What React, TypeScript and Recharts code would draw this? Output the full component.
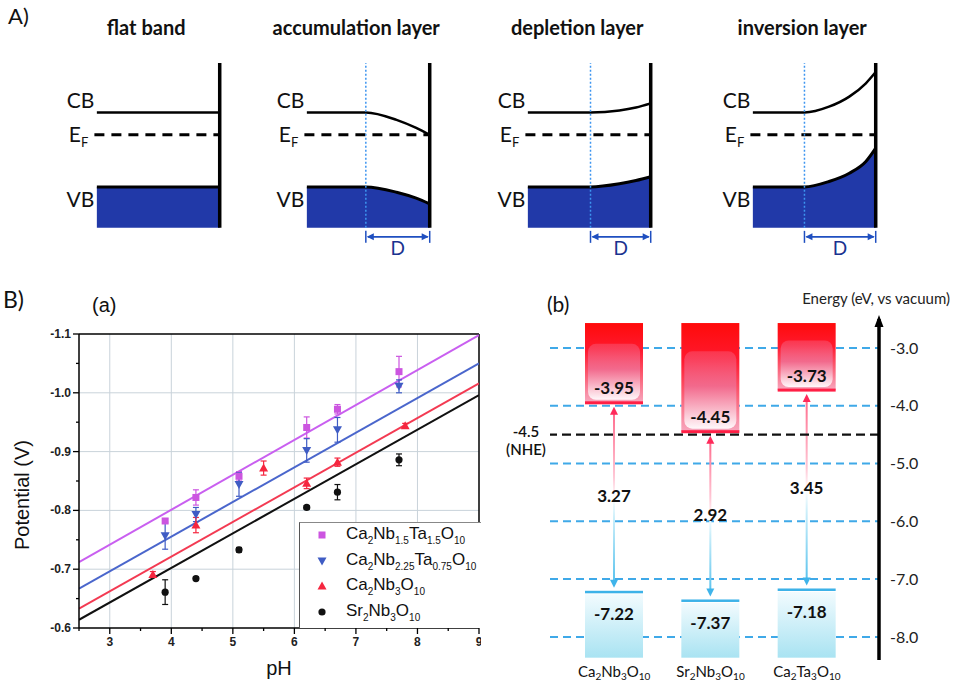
import React from "react";
import {
  ComposedChart,
  Line,
  Area,
  Scatter,
  Bar,
  XAxis,
  YAxis,
  CartesianGrid,
  ReferenceLine,
  ReferenceDot,
  ErrorBar,
  Legend,
  LabelList,
  Label,
} from "recharts";

const ARIAL = "'Liberation Sans', Arial, sans-serif";
const LATO = "Lato, 'Open Sans', sans-serif";

// ---- A) band bending schematics (x: 0 = bulk … 1 = surface, y: energy in arbitrary units)
const BAND_TITLES = ["flat band", "accumulation layer", "depletion layer", "inversion layer"];
const FLAT_X = [0, 1];
const FLAT_CB = [7, 7];
const FLAT_VB = [2.48, 2.48];
const ACC_X = [0, 0.48, 0.73, 0.89, 1];
const ACC_CB = [7, 7, 6.55, 6.06, 5.64];
const ACC_VB = [2.48, 2.48, 2.16, 1.8, 1.45];
const DEP_X = [0, 0.51, 0.745, 0.88, 1];
const DEP_CB = [7, 7, 7.12, 7.3, 7.55];
const DEP_VB = [2.48, 2.48, 2.67, 2.87, 3.1];
const INV_X = [0, 0.42, 0.62, 0.785, 0.92, 1];
const INV_CB = [7, 7, 7.35, 7.96, 8.77, 9.45];
const INV_VB = [2.48, 2.48, 2.81, 3.31, 4.02, 4.83];
const DEPTH_START = [null, 0.48, 0.51, 0.42];
const FERMI_LEVEL = 5.64;

// ---- B)(a) flat band potential vs pH
const SERIES_NAMES = ["Ca2Nb1.5Ta1.5O10", "Ca2Nb2.25Ta0.75O10", "Ca2Nb3O10", "Sr2Nb3O10"];
const PH_MAG = [3.9, 4.4, 5.1, 6.2, 6.7, 7.7];
const POT_MAG = [-0.782, -0.822, -0.858, -0.941, -0.972, -1.036];
const ERR_MAG = [0.004, 0.013, 0.008, 0.018, 0.008, 0.026];
const PH_BLUE = [3.9, 4.4, 5.1, 6.2, 6.7, 7.7];
const POT_BLUE = [-0.757, -0.793, -0.844, -0.902, -0.937, -1.011];
const ERR_BLUE = [0.023, 0.012, 0.02, 0.02, 0.021, 0.011];
const PH_RED = [3.7, 4.4, 5.5, 6.2, 6.7, 7.8];
const POT_RED = [-0.691, -0.775, -0.872, -0.846, -0.882, -0.944];
const ERR_RED = [0.005, 0.013, 0.012, 0.009, 0.007, 0.004];
const PH_BLACK = [3.9, 4.4, 5.1, 6.2, 6.7, 7.7];
const POT_BLACK = [-0.661, -0.684, -0.733, -0.805, -0.831, -0.886];
const ERR_BLACK = [0.021, 0.003, 0.004, 0.003, 0.013, 0.01];
const FIT_PH = [2.5, 9];
const FIT_MAG = [-0.712, -1.098];
const FIT_BLUE = [-0.667, -1.05];
const FIT_RED = [-0.633, -1.016];
const FIT_BLACK = [-0.614, -0.996];
const PH_TICKS = [2.5, 3, 3.5, 4, 4.5, 5, 5.5, 6, 6.5, 7, 7.5, 8, 8.5, 9];
const POT_TICKS = [-1.1, -1.05, -1.0, -0.95, -0.9, -0.85, -0.8, -0.75, -0.7, -0.65, -0.6];
const PH_GRID = [3, 4, 5, 6, 7, 8];
const POT_GRID = [-1.0, -0.9, -0.8, -0.7];

// ---- B)(b) band edge positions
const MATERIALS = ["Ca2Nb3O10", "Sr2Nb3O10", "Ca2Ta3O10"];
const CB_EDGE = [-3.95, -4.45, -3.73];
const VB_EDGE = [-7.22, -7.37, -7.18];
const GAP = [3.27, 2.92, 3.45];
const BAND_TOP = -2.57;
const BAND_BOTTOM = -8.36;
const ENERGY_TICKS = [-8, -7, -6, -5, -4, -3];
const NHE = -4.5;

const SERIES_COLORS = ["#cc55e0", "#3f5cc4", "#f5263f", "#111111"];
const LINE_COLORS = ["#c95ff0", "#4a66cc", "#f33a52", "#111111"];

function formulaParts(f: string) {
  const parts: { t: string; sub: boolean }[] = [];
  for (const m of f.matchAll(/([A-Z][a-z]?)([\d.]*)/g)) {
    parts.push({ t: m[1], sub: false });
    if (m[2]) parts.push({ t: m[2], sub: true });
  }
  return parts;
}

function svgFormula(f: string, size: number, subSize: number, drop: number) {
  let cur = 0;
  return formulaParts(f).map((p, i) => {
    const target = p.sub ? drop : 0;
    const dy = target - cur;
    cur = target;
    return (
      <tspan key={i} fontSize={p.sub ? subSize : size} dy={dy}>
        {p.t}
      </tspan>
    );
  });
}

function HtmlFormula({ f }: { f: string }) {
  return (
    <>
      {formulaParts(f).map((p, i) =>
        p.sub ? (
          <span key={i} style={{ fontSize: 10, position: "relative", top: 5 }}>
            {p.t}
          </span>
        ) : (
          <span key={i}>{p.t}</span>
        )
      )}
    </>
  );
}

function Marker({ i, cx, cy }: { i: number; cx: number; cy: number }) {
  const c = SERIES_COLORS[i];
  if (i === 0) return <rect x={cx - 3.5} y={cy - 3.5} width={7} height={7} fill={c} />;
  if (i === 1)
    return <path d={`M${cx - 4.5},${cy - 3.5} L${cx + 4.5},${cy - 3.5} L${cx},${cy + 4.5} Z`} fill={c} />;
  if (i === 2)
    return <path d={`M${cx - 4.5},${cy + 3.5} L${cx + 4.5},${cy + 3.5} L${cx},${cy - 4.5} Z`} fill={c} />;
  return <circle cx={cx} cy={cy} r={3.6} fill={c} />;
}

// ---------- A) ----------
function DArrow(p: any) {
  const { x1, y1, x2, stroke } = p;
  return (
    <g stroke={stroke} fill={stroke}>
      <line x1={x1 + 2} y1={y1} x2={x2 - 2} y2={y1} strokeWidth={1.8} />
      <line x1={x1} y1={y1 - 6} x2={x1} y2={y1 + 6} strokeWidth={1.5} />
      <line x1={x2} y1={y1 - 6} x2={x2} y2={y1 + 6} strokeWidth={1.5} />
      <path d={`M${x1 + 1},${y1} l7,-3.5 l0,7 z`} stroke="none" />
      <path d={`M${x2 - 1},${y1} l-7,-3.5 l0,7 z`} stroke="none" />
    </g>
  );
}

const sideLabel = (text: string, sub?: string) => (p: any) => (
  <text x={p.viewBox.x} y={p.viewBox.y} textAnchor="end" fontFamily={LATO} fontSize={21} fill="#111">
    {text}
    {sub ? (
      <tspan fontSize={13} dy={5}>
        {sub}
      </tspan>
    ) : null}
  </text>
);

const dLabel = (p: any) => (
  <text x={p.viewBox.x} y={p.viewBox.y} textAnchor="middle" fontFamily={LATO} fontSize={19} fill="#1a3290">
    D
  </text>
);

function BandPanel({ left, xs, cb, vb, depth }: any) {
  const data = xs.map((x: number, i: number) => ({ x, cb: cb[i], vb: vb[i] }));
  return (
    <div style={{ position: "absolute", left, top: 63 }}>
      <ComposedChart width={172} height={206} data={data} margin={{ top: 0, right: 0, bottom: 0, left: 0 }}>
        <XAxis dataKey="x" type="number" domain={[-0.3, 1.1]} hide />
        <YAxis type="number" domain={[-2.5, 10]} hide />
        <Area
          type="monotone"
          dataKey="vb"
          baseValue={0}
          stroke="#000"
          strokeWidth={3}
          fill="#2139a8"
          fillOpacity={1}
          isAnimationActive={false}
        />
        <Line type="monotone" dataKey="cb" stroke="#000" strokeWidth={2.5} dot={false} isAnimationActive={false} />
        <ReferenceLine
          segment={[{ x: -0.02, y: FERMI_LEVEL }, { x: 1, y: FERMI_LEVEL }]}
          stroke="#000"
          strokeWidth={3}
          strokeDasharray="10 7"
        />
        {depth != null && (
          <ReferenceLine
            segment={[{ x: depth, y: 0 }, { x: depth, y: 10 }]}
            stroke="#3d95f0"
            strokeWidth={1.5}
            strokeDasharray="2 2"
          />
        )}
        <ReferenceLine segment={[{ x: 1, y: 0 }, { x: 1, y: 10 }]} stroke="#000" strokeWidth={3.5} />
        {depth != null && (
          <ReferenceLine segment={[{ x: depth, y: -0.55 }, { x: 1, y: -0.55 }]} stroke="#1f4fc0" shape={DArrow} />
        )}
        {depth != null && (
          <ReferenceDot x={(depth + 1) / 2} y={-1.64} r={0} fill="none" stroke="none" label={dLabel} />
        )}
        <ReferenceDot x={-0.02} y={7.27} r={0} fill="none" stroke="none" label={sideLabel("CB")} />
        <ReferenceDot x={-0.07} y={5.21} r={0} fill="none" stroke="none" label={sideLabel("E", "F")} />
        <ReferenceDot x={-0.02} y={1.27} r={0} fill="none" stroke="none" label={sideLabel("VB")} />
      </ComposedChart>
    </div>
  );
}

// ---------- B)(a) ----------
function PhTick(props: any) {
  const { x, y, payload } = props;
  const v = payload.value;
  const major = Number.isInteger(v);
  const ay = y - 8;
  return (
    <g>
      <line x1={x} y1={ay} x2={x} y2={ay + (major ? 6 : 3)} stroke="#000" strokeWidth={1.3} />
      {major && (
        <text x={x} y={ay + 18} textAnchor="middle" fontSize={12} fontWeight={600} fontFamily={ARIAL} fill="#222">
          {v}
        </text>
      )}
    </g>
  );
}

function PotTick(props: any) {
  const { x, y, payload } = props;
  const v = payload.value;
  const major = Math.abs(v * 10 - Math.round(v * 10)) < 1e-6;
  const ax = x + 8;
  return (
    <g>
      <line x1={ax} y1={y} x2={ax - (major ? 6 : 3)} y2={y} stroke="#000" strokeWidth={1.3} />
      {major && (
        <text x={ax - 8} y={y + 4} textAnchor="end" fontSize={12} fontWeight={600} fontFamily={ARIAL} fill="#222">
          {v.toFixed(1)}
        </text>
      )}
    </g>
  );
}

const phLabel = (p: any) => {
  const vb = p.viewBox;
  return (
    <text x={vb.x + vb.width / 2} y={vb.y + 47} textAnchor="middle" fontSize={20} fontFamily={ARIAL} fill="#111">
      pH
    </text>
  );
};

const potLabel = (p: any) => {
  const vb = p.viewBox;
  const cx = vb.x - 7;
  const cy = vb.y + vb.height / 2 + 14;
  return (
    <text
      x={cx}
      y={cy}
      transform={`rotate(-90 ${cx} ${cy})`}
      textAnchor="middle"
      dominantBaseline="central"
      fontSize={20}
      fontFamily={ARIAL}
      fill="#111"
    >
      Potential (V)
    </text>
  );
};

function LegendBox() {
  return (
    <div
      style={{
        width: 200,
        height: 106,
        boxSizing: "border-box",
        background: "#fff",
        borderLeft: "1.5px solid #555",
        borderTop: "1.5px solid #888",
        fontFamily: ARIAL,
        position: "relative",
      }}
    >
      {SERIES_NAMES.map((n, i) => (
        <div
          key={n}
          style={{ position: "absolute", left: 0, top: 2 + i * 25.7, height: 20, display: "flex", alignItems: "center" }}
        >
          <svg width={46} height={20} style={{ flex: "none" }}>
            <Marker i={i} cx={22} cy={10} />
          </svg>
          <span style={{ fontSize: 17, color: "#111", whiteSpace: "nowrap", lineHeight: "20px" }}>
            <HtmlFormula f={n} />
          </span>
        </div>
      ))}
    </div>
  );
}

function PotentialChart() {
  const series = [
    { xs: PH_MAG, ys: POT_MAG, errs: ERR_MAG, fit: FIT_MAG },
    { xs: PH_BLUE, ys: POT_BLUE, errs: ERR_BLUE, fit: FIT_BLUE },
    { xs: PH_RED, ys: POT_RED, errs: ERR_RED, fit: FIT_RED },
    { xs: PH_BLACK, ys: POT_BLACK, errs: ERR_BLACK, fit: FIT_BLACK },
  ];
  return (
    <div style={{ position: "absolute", left: 0, top: 300, width: 481, height: 384, overflow: "hidden" }}>
      <ComposedChart width={540} height={384} margin={{ top: 34, right: 61, bottom: 26, left: 29 }}>
        <XAxis
          dataKey="x"
          type="number"
          domain={[2.5, 9]}
          ticks={PH_TICKS}
          interval={0}
          allowDataOverflow
          height={30}
          tickSize={6}
          tickMargin={2}
          tickLine={false}
          axisLine={{ stroke: "#000", strokeWidth: 1.5 }}
          tick={<PhTick />}
          label={<Label content={phLabel} />}
        />
        <YAxis
          type="number"
          domain={[-1.1, -0.6]}
          reversed
          ticks={POT_TICKS}
          interval={0}
          allowDataOverflow
          width={50}
          tickSize={6}
          tickMargin={2}
          tickLine={false}
          axisLine={{ stroke: "#000", strokeWidth: 1.5 }}
          tick={<PotTick />}
          label={<Label content={potLabel} />}
        />
        {PH_GRID.map((v) => (
          <ReferenceLine key={"gx" + v} x={v} stroke="#c9d3da" strokeWidth={1} />
        ))}
        {POT_GRID.map((v) => (
          <ReferenceLine key={"gy" + v} y={v} stroke="#c9d3da" strokeWidth={1} />
        ))}
        <ReferenceLine y={-1.1} stroke="#000" strokeWidth={1.5} />
        <ReferenceLine x={9} stroke="#000" strokeWidth={1.5} />
        {series.map((s, i) => (
          <Line
            key={"fit" + i}
            data={FIT_PH.map((x, j) => ({ x, y: s.fit[j] }))}
            dataKey="y"
            stroke={LINE_COLORS[i]}
            strokeWidth={2}
            dot={false}
            legendType="none"
            isAnimationActive={false}
          />
        ))}
        {series.map((s, i) => (
          <Scatter
            key={"pts" + i}
            name={SERIES_NAMES[i]}
            data={s.xs.map((x, j) => ({ x, y: s.ys[j], err: s.errs[j] }))}
            dataKey="y"
            fill={SERIES_COLORS[i]}
            shape={(p: any) => <Marker i={i} cx={p.cx} cy={p.cy} />}
            isAnimationActive={false}
          >
            <ErrorBar dataKey="err" direction="y" width={3} stroke={SERIES_COLORS[i]} strokeWidth={1.2} />
          </Scatter>
        ))}
        <Legend
          layout="vertical"
          align="center"
          verticalAlign="middle"
          wrapperStyle={{ left: 299, top: 222, width: 200, height: 106 }}
          content={() => <LegendBox />}
        />
      </ComposedChart>
    </div>
  );
}

// ---------- B)(b) ----------
function CbShape(p: any) {
  const { x, y, width, height } = p;
  const innerTop = y + height * 0.26;
  return (
    <g>
      <rect x={x} y={y} width={width} height={height} fill="url(#cbOuter)" />
      <rect x={x + 3} y={innerTop} width={width - 6} height={y + height - innerTop - 3} rx={8} fill="url(#cbInner)" />
      <rect x={x} y={y + height - 1.5} width={width} height={3} fill="#ff1f45" />
    </g>
  );
}

function VbShape(p: any) {
  const { x, y, width, height } = p;
  return (
    <g>
      <rect x={x} y={y + 2.5} width={width} height={height - 2.5} fill="url(#vbFill)" />
      <rect x={x} y={y - 1} width={width} height={2.5} fill="#3db2e8" />
    </g>
  );
}

function GapArrow(p: any) {
  const { x, y, width, height } = p;
  const cx = x + width / 2;
  const top = y + 4;
  const bot = y + height - 4;
  return (
    <g>
      <rect x={cx - 1} y={top + 7} width={2} height={bot - top - 14} fill="url(#gapGrad)" />
      <path d={`M${cx},${top} l-4,8 l8,0 z`} fill="#ff2a5a" />
      <path d={`M${cx},${bot} l-4,-8 l8,0 z`} fill="#3fb4ea" />
    </g>
  );
}

const boxOf = (p: any) => p.viewBox ?? p;

const cbLabel = (p: any) => {
  const b = boxOf(p);
  return (
    <text
      x={b.x + b.width / 2}
      y={b.y + b.height - 15}
      textAnchor="middle"
      dominantBaseline="central"
      fontFamily={LATO}
      fontWeight={700}
      fontSize={17}
      fill="#111"
    >
      {Number(p.value).toFixed(2)}
    </text>
  );
};

const vbLabel = (p: any) => {
  const b = boxOf(p);
  return (
    <text
      x={b.x + b.width / 2}
      y={b.y + 22}
      textAnchor="middle"
      dominantBaseline="central"
      fontFamily={LATO}
      fontWeight={700}
      fontSize={17}
      fill="#111"
    >
      {Number(p.value).toFixed(2)}
    </text>
  );
};

const gapLabel = (p: any) => {
  const b = boxOf(p);
  return (
    <text
      x={b.x + b.width / 2}
      y={b.y + b.height / 2 - 2}
      textAnchor="middle"
      dominantBaseline="central"
      fontFamily={LATO}
      fontWeight={700}
      fontSize={17}
      fill="#111"
    >
      {Number(p.value).toFixed(2)}
    </text>
  );
};

const nheLabel = (p: any) => {
  const b = p.viewBox;
  return (
    <g fontFamily={LATO} fontWeight={600} fontSize={15} fill="#111" textAnchor="middle">
      <text x={b.x - 24} y={b.y + 2.5}>
        {NHE.toFixed(1)}
      </text>
      <text x={b.x - 24} y={b.y + 20.5}>
        (NHE)
      </text>
    </g>
  );
};

const energyAxisLabel = (p: any) => {
  const b = p.viewBox;
  return (
    <g>
      <path d={`M${b.x},${b.y - 4} l-4.5,12 l9,0 z`} fill="#000" />
      <text x={b.x + b.width - 4} y={b.y - 15} textAnchor="end" fontFamily={LATO} fontSize={15} fill="#222">
        Energy (eV, vs vacuum)
      </text>
    </g>
  );
};

function FormulaTick(props: any) {
  const { x, y, payload } = props;
  return (
    <text x={x} y={y + 9} textAnchor="middle" fontFamily={LATO} fill="#111">
      {svgFormula(payload.value, 15, 10, 3)}
    </text>
  );
}

function EnergyChart() {
  const data = MATERIALS.map((name, i) => ({
    name,
    cb: CB_EDGE[i],
    vb: VB_EDGE[i],
    gap: GAP[i],
    cbRange: [CB_EDGE[i], BAND_TOP],
    vbRange: [BAND_BOTTOM, VB_EDGE[i]],
    gapRange: [VB_EDGE[i], CB_EDGE[i]],
  }));
  const pad = { left: 16, right: 24 };
  return (
    <div style={{ position: "absolute", left: 500, top: 270 }}>
      <ComposedChart width={454} height={414} data={data} margin={{ top: 49, right: 0, bottom: 0, left: 50 }}>
        <defs>
          <linearGradient id="cbOuter" x1="0" y1="0" x2="0" y2="1">
            <stop offset="0" stopColor="#ff0a0a" />
            <stop offset="0.35" stopColor="#ff1a30" />
            <stop offset="1" stopColor="#f7a8bf" />
          </linearGradient>
          <linearGradient id="cbInner" x1="0" y1="0" x2="0" y2="1">
            <stop offset="0" stopColor="#f8506e" stopOpacity={0.55} />
            <stop offset="0.45" stopColor="#f2698c" />
            <stop offset="1" stopColor="#fff8fa" />
          </linearGradient>
          <linearGradient id="vbFill" x1="0" y1="0" x2="0" y2="1">
            <stop offset="0" stopColor="#f2fbfe" />
            <stop offset="1" stopColor="#a9e3f2" />
          </linearGradient>
          <linearGradient id="gapGrad" x1="0" y1="0" x2="0" y2="1">
            <stop offset="0" stopColor="#ff6d8e" />
            <stop offset="0.38" stopColor="#ffc8d6" />
            <stop offset="0.5" stopColor="#ffffff" />
            <stop offset="0.62" stopColor="#cdeffa" />
            <stop offset="1" stopColor="#5cc4ee" />
          </linearGradient>
        </defs>
        <CartesianGrid
          xAxisId="main"
          vertical={false}
          syncWithTicks
          stroke="#3fa9e8"
          strokeWidth={2}
          strokeDasharray="8 5"
        />
        <XAxis
          xAxisId="main"
          dataKey="name"
          type="category"
          padding={pad}
          height={24}
          axisLine={false}
          tickLine={false}
          tickSize={6}
          tickMargin={2}
          interval={0}
          tick={<FormulaTick />}
        />
        <XAxis xAxisId="cb" dataKey="name" type="category" orientation="top" height={0} padding={pad} hide />
        <XAxis xAxisId="vb" dataKey="name" type="category" orientation="top" height={0} padding={pad} hide />
        <XAxis xAxisId="gap" dataKey="name" type="category" orientation="top" height={0} padding={pad} hide />
        <YAxis
          orientation="right"
          type="number"
          width={75}
          domain={[-8.4, -2.5]}
          ticks={ENERGY_TICKS}
          allowDataOverflow
          interval={0}
          axisLine={{ stroke: "#000", strokeWidth: 3.5 }}
          tickLine={false}
          tickSize={6}
          tickMargin={5}
          tickFormatter={(v: number) => v.toFixed(1)}
          tick={{ fontSize: 16, fill: "#222", fontFamily: LATO }}
          label={<Label content={energyAxisLabel} />}
        />
        <ReferenceLine
          xAxisId="main"
          y={NHE}
          stroke="#111"
          strokeWidth={2.2}
          strokeDasharray="9 5"
          label={nheLabel}
        />
        <Bar xAxisId="cb" dataKey="cbRange" barSize={58} shape={CbShape} isAnimationActive={false}>
          <LabelList dataKey="cb" content={cbLabel} />
        </Bar>
        <Bar xAxisId="vb" dataKey="vbRange" barSize={58} shape={VbShape} isAnimationActive={false}>
          <LabelList dataKey="vb" content={vbLabel} />
        </Bar>
        <Bar xAxisId="gap" dataKey="gapRange" barSize={10} shape={GapArrow} isAnimationActive={false}>
          <LabelList dataKey="gap" content={gapLabel} />
        </Bar>
      </ComposedChart>
    </div>
  );
}

const PANEL_LEFT = [60, 270, 491, 716];

export default function App() {
  const bands = [
    { xs: FLAT_X, cb: FLAT_CB, vb: FLAT_VB },
    { xs: ACC_X, cb: ACC_CB, vb: ACC_VB },
    { xs: DEP_X, cb: DEP_CB, vb: DEP_VB },
    { xs: INV_X, cb: INV_CB, vb: INV_VB },
  ];
  return (
    <div
      style={{
        position: "absolute",
        left: 0,
        top: 0,
        width: 954,
        height: 684,
        background: "#fff",
        overflow: "hidden",
      }}
    >
      {bands.map((b, i) => (
        <BandPanel key={i} left={PANEL_LEFT[i]} xs={b.xs} cb={b.cb} vb={b.vb} depth={DEPTH_START[i]} />
      ))}
      <PotentialChart />
      <EnergyChart />
      <svg
        width={954}
        height={684}
        style={{ position: "absolute", left: 0, top: 0, pointerEvents: "none" }}
      >
        <text x={8} y={24} fontFamily={LATO} fontSize={22} fill="#111">
          A)
        </text>
        {BAND_TITLES.map((t, i) => (
          <text
            key={t}
            x={PANEL_LEFT[i] + 37 + 0.4 * 123}
            y={35}
            textAnchor="middle"
            fontFamily={LATO}
            fontWeight={700}
            fontSize={20}
            fill="#111"
          >
            {t}
          </text>
        ))}
        <text x={3} y={308} fontFamily={LATO} fontSize={23} fill="#111">
          B)
        </text>
        <text x={92} y={312} fontFamily={ARIAL} fontSize={20} fill="#111">
          (a)
        </text>
        <text x={547} y={312} fontFamily={LATO} fontSize={21} fill="#111">
          (b)
        </text>
      </svg>
    </div>
  );
}
